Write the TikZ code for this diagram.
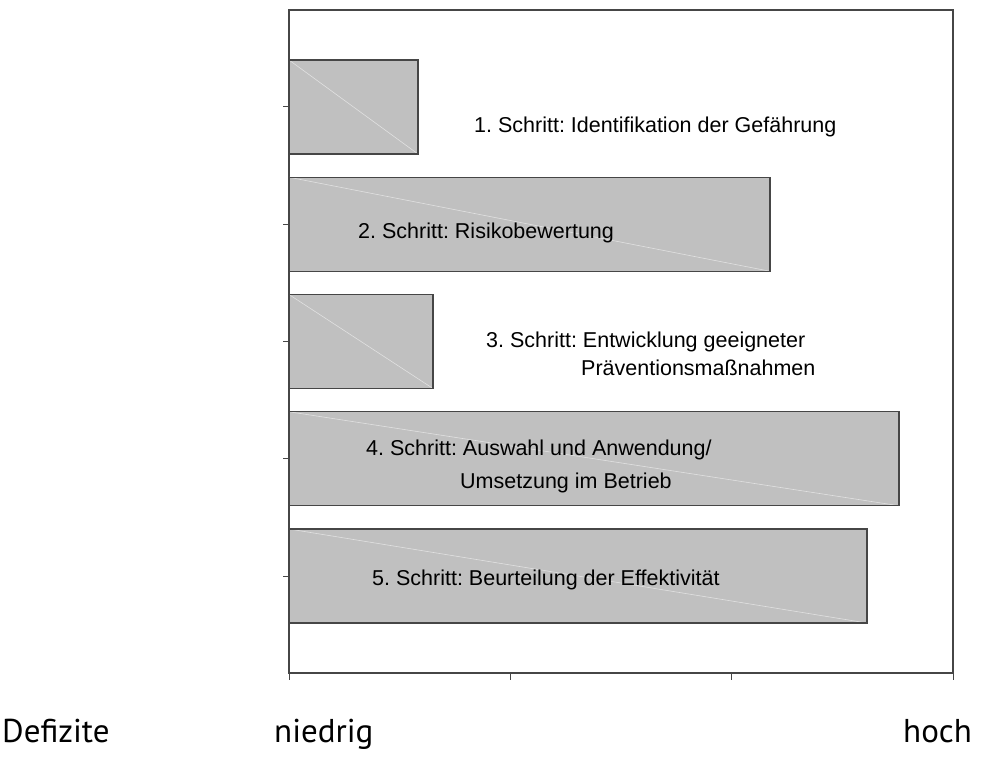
\documentclass[tikz,border=0pt]{standalone}
\usepackage{fontspec}
\setmainfont{Liberation Sans}
\newfontfamily\labelfont{PT Sans}
\usepackage{tikz}
\usetikzlibrary{positioning}
\definecolor{bargray}{RGB}{192,192,192}
\definecolor{framegray}{RGB}{70,70,70}
\definecolor{diaggray}{RGB}{225,225,225}
\frenchspacing

\begin{document}
\begin{tikzpicture}[x=1pt, y=-1pt,
    barframe/.style={draw=framegray, line width=1.4pt},
    steptext/.style={anchor=base west, inner sep=0pt, font=\fontsize{21.5}{26}\selectfont},
    axislabel/.style={anchor=base west, inner sep=0pt, font=\labelfont\fontsize{33}{38}\selectfont}]
    \useasboundingbox (0,0) rectangle (988,765);
    % 坐标框
    \draw[framegray, line width=1.3pt] (289,10) rectangle (953,673);
    \foreach \x in {289, 510.3, 731.7, 953}
        \draw[framegray, line width=1pt] (\x,673) -- (\x,680);

    % 条形
    \foreach \r [count=\i from 0] in {418, 770, 433, 899, 867} {
        \pgfmathsetmacro{\yc}{107+117.25*\i}
        \draw[framegray, line width=1pt] (283,\yc) -- (289,\yc);
        \fill[bargray] (289,\yc-47) rectangle (\r,\yc+47);
        \draw[diaggray, line width=0.6pt] (289,\yc-47) -- (\r,\yc+47);
        \draw[barframe] (289,\yc-47) rectangle (\r,\yc+47);
    }

    % 文字
    \node[steptext] (s1) at (474,133) {1. Schritt: Identifikation der Gefährung};
    \node[steptext] (s2) at (358,238) {2. Schritt: Risikobewertung};
    \node[steptext] (s3a) at (486,347) {3. Schritt: Entwicklung geeigneter};
    \node[steptext] (s3b) at (581,375) {Präventionsmaßnahmen};
    \node[steptext] (s4a) at (366,455) {4. Schritt: Auswahl und Anwendung/};
    \node[steptext] (s4b) at (460,488) {Umsetzung im Betrieb};
    \node[steptext] (s5) at (372,585) {5. Schritt: Beurteilung der Effektivität};

    % 横轴标签
    \node[axislabel] (def) at (2,742) {Defizite};
    \node[axislabel] (low) at (274,742) {niedrig};
    \node[axislabel] (high) at (903,742) {hoch};
\end{tikzpicture}
\end{document}
